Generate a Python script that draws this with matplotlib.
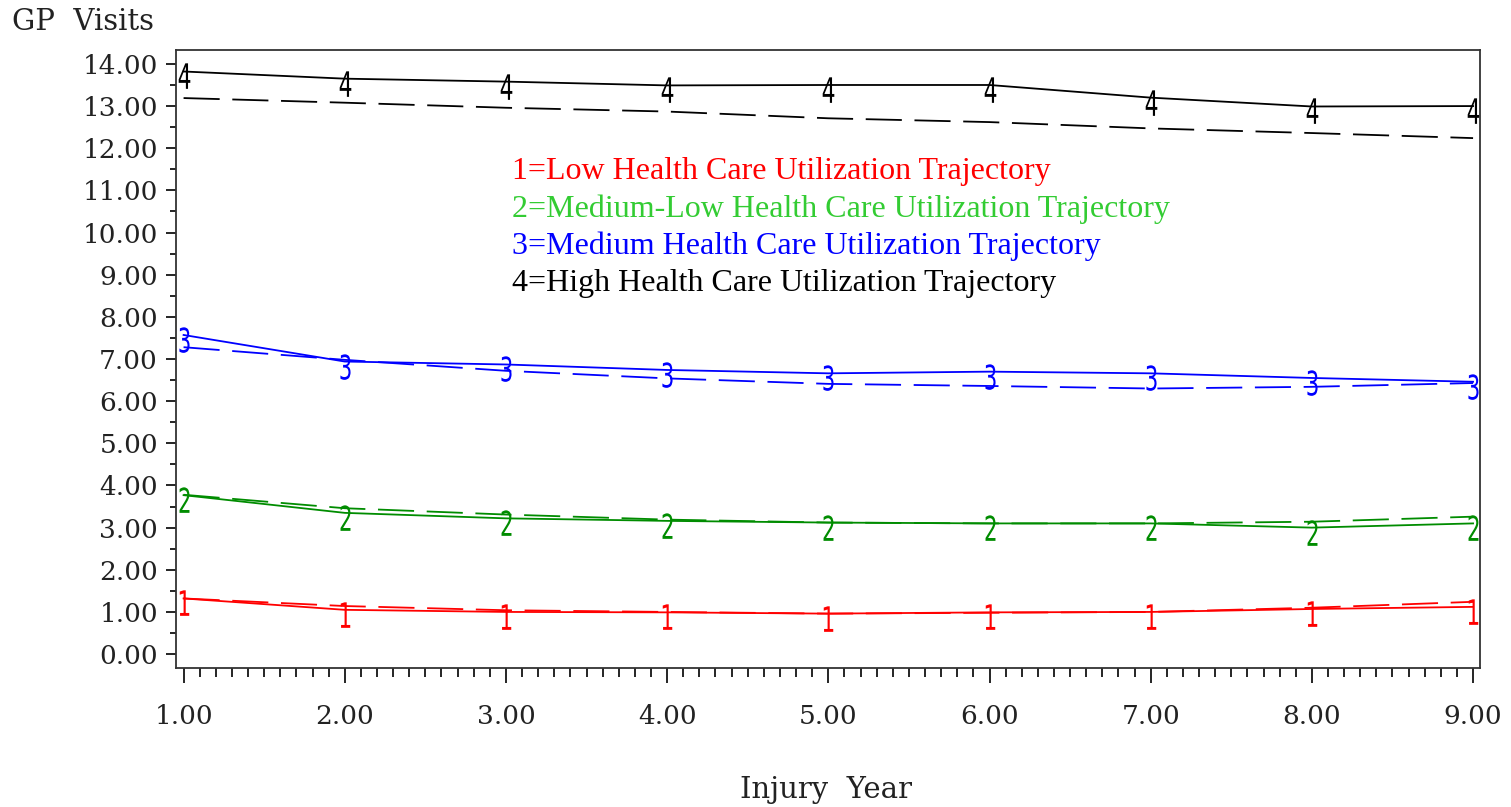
import numpy as np
import matplotlib
matplotlib.use("Agg")
import matplotlib.pyplot as plt
from matplotlib.textpath import TextPath
from matplotlib.font_manager import FontProperties
from matplotlib.path import Path
from matplotlib.ticker import MultipleLocator, FormatStrFormatter

# injury year and GP visits per trajectory group
years = [1, 2, 3, 4, 5, 6, 7, 8, 9]

low_pred = [1.32, 1.05, 1.00, 0.99, 0.96, 0.99, 1.00, 1.07, 1.12]
low_obs = [1.32, 1.14, 1.04, 1.00, 0.96, 0.98, 1.00, 1.10, 1.24]

medlow_pred = [3.77, 3.35, 3.22, 3.16, 3.12, 3.10, 3.10, 3.00, 3.10]
medlow_obs = [3.78, 3.46, 3.31, 3.19, 3.12, 3.10, 3.10, 3.14, 3.26]

med_pred = [7.57, 6.94, 6.87, 6.74, 6.66, 6.70, 6.66, 6.55, 6.46]
med_obs = [7.28, 6.98, 6.72, 6.54, 6.41, 6.36, 6.30, 6.34, 6.43]

high_pred = [13.82, 13.65, 13.58, 13.49, 13.50, 13.50, 13.20, 12.99, 13.00]
high_obs = [13.19, 13.08, 12.96, 12.87, 12.71, 12.62, 12.47, 12.36, 12.24]

groups = [
    ("1", low_pred, low_obs, "#ff0000"),
    ("2", medlow_pred, medlow_obs, "#008c00"),
    ("3", med_pred, med_obs, "#0000ff"),
    ("4", high_pred, high_obs, "#000000"),
]

legend_lines = [
    ("1=Low Health Care Utilization Trajectory", "#ff0000"),
    ("2=Medium-Low Health Care Utilization Trajectory", "#33cc33"),
    ("3=Medium Health Care Utilization Trajectory", "#0000ff"),
    ("4=High Health Care Utilization Trajectory", "#000000"),
]


def digit_marker(ch):
    # stretched digit glyph used as plot symbol, sitting a bit below the point
    tp = TextPath((0, 0), ch, prop=FontProperties(family="DejaVu Sans"), size=10)
    v = tp.vertices.copy()
    ext = tp.get_extents()
    v[:, 0] -= (ext.x0 + ext.x1) / 2
    v[:, 1] -= (ext.y0 + ext.y1) / 2
    v[:, 1] *= 1.6
    h = ext.height * 1.6
    v[:, 1] -= 0.18 * h
    return Path(v, tp.codes)


fig = plt.figure(figsize=(15.11, 8.07), dpi=100)
ax = fig.add_axes([176 / 1511, 1 - 668 / 807, (1480 - 176) / 1511, (668 - 50) / 807])

for ch, pred, obs, color in groups:
    ax.plot(years, pred, color=color, linewidth=1.3,
            marker=digit_marker(ch), markersize=25, markerfacecolor=color,
            markeredgewidth=0, clip_on=False)
    ax.plot(years, obs, color=color, linewidth=1.3, dashes=(20, 7))

ax.set_xlim(0.953, 9.043)
ax.set_ylim(-0.33, 14.33)

ax.xaxis.set_major_locator(MultipleLocator(1))
ax.xaxis.set_minor_locator(MultipleLocator(0.1))
ax.yaxis.set_major_locator(MultipleLocator(1))
ax.yaxis.set_minor_locator(MultipleLocator(0.5))
ax.xaxis.set_major_formatter(FormatStrFormatter("%.2f"))
ax.yaxis.set_major_formatter(FormatStrFormatter("%.2f"))

ax.tick_params(axis="x", which="major", direction="out", length=11, width=1.2, pad=15)
ax.tick_params(axis="x", which="minor", direction="out", length=6.5, width=1.2)
ax.tick_params(axis="y", which="major", direction="out", length=7, width=1.2, pad=6)
ax.tick_params(axis="y", which="minor", direction="out", length=4.5, width=1.2)
for lab in ax.get_xticklabels() + ax.get_yticklabels():
    lab.set_fontfamily("DejaVu Serif")
    lab.set_fontsize(19)
    lab.set_color("#222222")

for sp in ax.spines.values():
    sp.set_linewidth(1.3)
    sp.set_color("#333333")

fig.text(12 / 1511, 1 - 22 / 807, "GP  Visits", fontfamily="DejaVu Serif",
         fontsize=21, color="#222222", ha="left", va="center")
fig.text(826 / 1511, 1 - 790 / 807, "Injury  Year", fontfamily="DejaVu Serif",
         fontsize=21, color="#222222", ha="center", va="center")

for i, (txt, color) in enumerate(legend_lines):
    fig.text(512 / 1511, 1 - (172 + 37 * i) / 807, txt, color=color,
             fontfamily="Liberation Serif", fontsize=23, ha="left", va="center")

fig.savefig("out.png", dpi=100)
